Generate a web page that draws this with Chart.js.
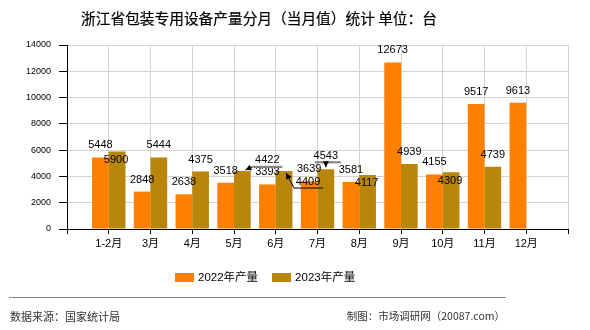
<!DOCTYPE html>
<html>
<head>
<meta charset="utf-8">
<script src="https://cdn.jsdelivr.net/npm/chart.js@4"></script>
<style>
  html, body { margin: 0; padding: 0; background: #fff; }
  #wrap { position: relative; width: 590px; height: 330px; overflow: hidden; font-family: "Liberation Sans", "Noto Sans CJK SC", sans-serif; }
  #c { position: absolute; left: 0; top: 0; }
  #title { position: absolute; left: 0; width: 518px; top: 8px; text-align: center; font-size: 14.7px; color: #000; font-family: "Noto Sans CJK SC", sans-serif; line-height: 20px; white-space: nowrap; -webkit-text-stroke: 0.2px #000; }
  #legend { position: absolute; top: 270px; left: 175px; display: flex; gap: 14px; font-size: 11.5px; color: #000; line-height: 14px; font-family: "Liberation Sans", "Noto Sans CJK SC", sans-serif; white-space: nowrap; }
  .li { display: flex; align-items: center; }
  .sw { width: 19px; height: 9px; margin-right: 4px; }
  #rule { position: absolute; left: 9px; width: 497px; top: 297px; height: 0; border-top: 1.5px solid #8a8a8a; }
  #src { position: absolute; left: 10px; top: 308px; font-size: 11px; color: #333; font-family: "Noto Sans CJK SC", sans-serif; line-height: 16px; white-space: nowrap; }
  #mk { position: absolute; right: 85px; top: 308px; font-size: 10.5px; color: #333; font-family: "Noto Sans CJK SC", sans-serif; line-height: 16px; white-space: nowrap; }
</style>
</head>
<body>
<div id="wrap">
  <canvas id="c" width="590" height="330"></canvas>
  <div id="title">浙江省包装专用设备产量分月（当月值）统计 单位：台</div>
  <div id="legend"></div>
  <div id="rule"></div>
  <div id="src">数据来源：国家统计局</div>
  <div id="mk">制图：市场调研网（20087.com）</div>
</div>
<script>
// ---- data ----
const categories = ['1-2月', '3月', '4月', '5月', '6月', '7月', '8月', '9月', '10月', '11月', '12月'];
const output2022 = [5448, 2848, 2638, 3518, 3393, 3639, 3581, 12673, 4155, 9517, 9613];
const output2023 = [5900, 5444, 4375, 4422, 4409, 4543, 4117, 4939, 4309, 4739, null];
const seriesNames = ['2022年产量', '2023年产量'];
const yTickValues = [0, 2000, 4000, 6000, 8000, 10000, 12000, 14000];

// ---- styles ----
const colors = ['#FF8000', '#B8860B'];
const numFont = '11px "Liberation Sans", "Noto Sans CJK SC", sans-serif';

// label placement (relative to bar top), keyed "dataset-index"
const labelPlacement = {
  defaultDy: -12,
  special: {
    '1-0': { dx: -1, dy: 8.5 },
    '1-3': { dx: 25, dy: -11,
      lines: [{ pts: [[40, -4], [10, -4]], color: '#808080', width: 2 },
              { pts: [[10, -4], [3, -1]], color: '#000', width: 1, arrow: true }] },
    '1-4': { dx: 24, dy: 11,
      lines: [{ pts: [[39, 17], [10, 17]], color: '#000', width: 1 },
              { pts: [[10, 17], [2, 2]], color: '#000', width: 1, arrow: true }] },
    '1-5': { dx: 0, dy: -13.5,
      lines: [{ pts: [[-11, -7], [15, -7]], color: '#808080', width: 2 },
              { pts: [[0, -6], [0, -2]], color: '#000', width: 1, arrow: true }] },
    '1-6': { dx: -1, dy: 8 },
    '1-8': { dx: -1, dy: 8.5 }
  }
};

function drawArrowHead(ctx, x0, y0, x1, y1) {
  const a = Math.atan2(y1 - y0, x1 - x0);
  const L = 6, W = 3;
  ctx.beginPath();
  ctx.moveTo(x1, y1);
  ctx.lineTo(x1 - L * Math.cos(a) + W * Math.sin(a), y1 - L * Math.sin(a) - W * Math.cos(a));
  ctx.lineTo(x1 - L * Math.cos(a) - W * Math.sin(a), y1 - L * Math.sin(a) + W * Math.cos(a));
  ctx.closePath();
  ctx.fillStyle = '#000';
  ctx.fill();
}

const valueLabels = {
  id: 'valueLabels',
  afterDatasetsDraw(chart) {
    const ctx = chart.ctx;
    ctx.save();
    chart.data.datasets.forEach((ds, di) => {
      const meta = chart.getDatasetMeta(di);
      meta.data.forEach((el, pi) => {
        const v = ds.data[pi];
        if (v === null || v === undefined) return;
        const idx = pi - 1;
        const sp = labelPlacement.special[di + '-' + idx] || {};
        const bx = el.x, by = el.y;
        (sp.lines || []).forEach(ln => {
          ctx.beginPath();
          ln.pts.forEach((p, k) => {
            const X = bx + p[0], Y = by + p[1];
            if (k === 0) ctx.moveTo(X, Y); else ctx.lineTo(X, Y);
          });
          ctx.strokeStyle = ln.color;
          ctx.lineWidth = ln.width;
          ctx.stroke();
          if (ln.arrow) {
            const n = ln.pts.length;
            drawArrowHead(ctx, bx + ln.pts[n - 2][0], by + ln.pts[n - 2][1], bx + ln.pts[n - 1][0], by + ln.pts[n - 1][1]);
          }
        });
        const x = bx + (sp.dx || 0);
        const y = by + (sp.dy !== undefined ? sp.dy : labelPlacement.defaultDy);
        ctx.font = numFont;
        ctx.fillStyle = '#000';
        ctx.textAlign = 'center';
        ctx.textBaseline = 'middle';
        ctx.fillText(String(v), x, y);
      });
    });
    ctx.restore();
  }
};

// legend (HTML)
const legendEl = document.getElementById('legend');
seriesNames.forEach((n, i) => {
  const d = document.createElement('div');
  d.className = 'li';
  d.innerHTML = '<span class="sw" style="background:' + colors[i] + '"></span><span>' + n + '</span>';
  legendEl.appendChild(d);
});

const labels = [''].concat(categories, ['']);
const pad = arr => [null].concat(arr, [null]);

new Chart(document.getElementById('c').getContext('2d'), {
  type: 'bar',
  data: {
    labels: labels,
    datasets: [
      { label: seriesNames[0], data: pad(output2022), backgroundColor: colors[0] },
      { label: seriesNames[1], data: pad(output2023), backgroundColor: colors[1] }
    ]
  },
  options: {
    responsive: false,
    animation: false,
    devicePixelRatio: 1,
    layout: { padding: { top: 45, right: 22, bottom: 0, left: 0 } },
    datasets: { bar: { categoryPercentage: 0.8, barPercentage: 1.0 } },
    plugins: { legend: { display: false }, title: { display: false }, tooltip: { enabled: false } },
    scales: {
      x: {
        offset: false,
        grid: { offset: false, color: '#d3d3d3', tickColor: '#000', tickLength: 5, lineWidth: 1 },
        border: { color: '#000', width: 1 },
        ticks: { autoSkip: false, maxRotation: 0, minRotation: 0, color: '#000', padding: 3,
                 font: { size: 11, family: '"Liberation Sans", "Noto Sans CJK SC", sans-serif' } },
        afterFit: s => { s.height = 101; }
      },
      y: {
        min: 0, max: 14000,
        afterBuildTicks: s => { s.ticks = yTickValues.map(v => ({ value: v })); },
        grid: { color: '#d3d3d3', tickColor: '#000', tickLength: 8, lineWidth: 1 },
        border: { color: '#000', width: 1 },
        ticks: { color: '#000', padding: 8, callback: v => String(v),
                 font: { size: 9, family: '"Liberation Sans", sans-serif' } },
        afterFit: s => { s.width = 67; }
      }
    }
  },
  plugins: [valueLabels]
});
</script>
</body>
</html>
